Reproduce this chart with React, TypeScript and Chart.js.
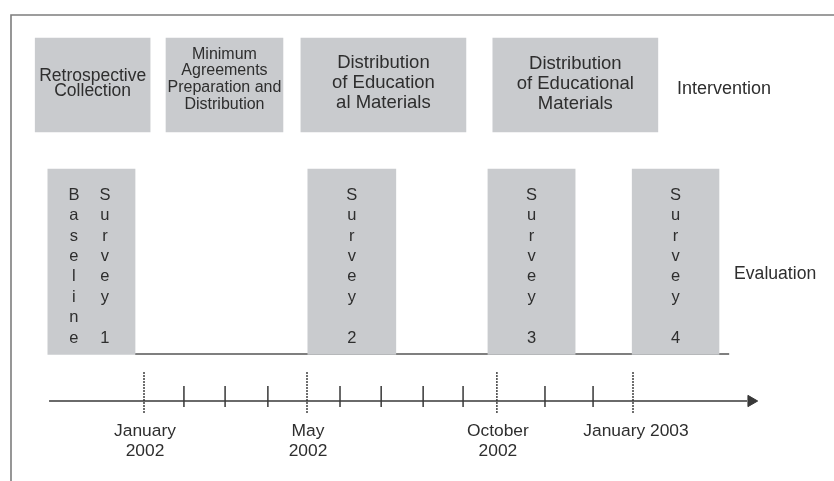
import { useEffect, useRef } from "react";
import { Chart, registerables } from "chart.js";

Chart.register(...registerables);

// Timeline positions, in months from January 2002, as spaced on the drawn axis
const majorTickPos = [0, 4, 8.66, 12];
const majorTickLabels = [["January", "2002"], ["May", "2002"], ["October", "2002"], ["January 2003"]];
const minorTickPos = [0.98, 1.99, 3.04, 4.81, 5.82, 6.85, 7.83, 9.84, 11.02];

// Intervention phases
const interventionLabels = [
  ["Retrospective", "Collection"],
  ["Minimum", "Agreements", "Preparation and", "Distribution"],
  ["Distribution", "of Education", "al Materials"],
  ["Distribution", "of Educational", "Materials"],
];
const interventionStart = [-2.67, 0.54, 3.85, 8.56];
const interventionEnd = [0.15, 3.41, 7.9, 12.61];

// Evaluation surveys (each word written vertically, one column per word)
const evaluationLabels = [["Baseline", "Survey 1"], ["Survey 2"], ["Survey 3"], ["Survey 4"]];
const evaluationStart = [-2.36, 4.02, 8.44, 11.98];
const evaluationEnd = [-0.22, 6.18, 10.58, 14.11];
const evaluationLineSpan = [-0.22, 14.36];

// Axis extent
const axisSpan = [-2.33, 14.8];
const arrowPos = [14.9];

// Row labels
const rowLabels = ["Intervention", "Evaluation"];
const rowLabelPos = [13.08, 14.48];

// ---- layout / style (not data) ----
const W = 834;
const H = 481;
const PX_PER_MONTH = 40.75;
const ORIGIN_PX = 144;
const FONT = '"Liberation Sans", Arial, sans-serif';
const TEXT = "#2e2e2e";
const BOX = "#c9cbce";
const LINE = "#383838";

const INT_CENTER = 85;
const INT_H = 94;
const EVAL_CENTER = 261.75;
const EVAL_H = 185.5;
const BASE_Y = 354;
const AXIS_Y = 401;
const MINOR_TOP = 386;
const MINOR_BOT = 407;
const MAJOR_TOP = 372;
const MAJOR_BOT = 414;

const interventionText = [
  { size: 17.5, lh: 14.5, cy: 82.5 },
  { size: 16, lh: 16.7, cy: 78 },
  { size: 18.5, lh: 20, cy: 82 },
  { size: 18.5, lh: 20, cy: 83 },
];
const LETTER_TOP = 194;
const LETTER_STEP = 20.4;
const LETTER_SIZE = 16.5;
const COL_GAP = 31;

const textPlugin = {
  id: "timelineText",
  beforeDraw(chart: any) {
    const { ctx } = chart;
    ctx.save();
    ctx.fillStyle = "#ffffff";
    ctx.fillRect(0, 0, W, H);
    ctx.strokeStyle = "#7d7d7d";
    ctx.lineWidth = 1.6;
    ctx.beginPath();
    ctx.moveTo(11, H);
    ctx.lineTo(11, 15);
    ctx.lineTo(W, 15);
    ctx.stroke();
    ctx.restore();
  },
  afterDatasetsDraw(chart: any) {
    const { ctx } = chart;
    const xs = chart.scales.x;
    const ys = chart.scales.y;
    ctx.save();
    ctx.fillStyle = TEXT;
    ctx.textBaseline = "alphabetic";
    ctx.textAlign = "center";

    // intervention box labels
    interventionLabels.forEach((lines, i) => {
      const st = interventionText[i];
      const cx = xs.getPixelForValue((interventionStart[i] + interventionEnd[i]) / 2);
      ctx.font = `${st.size}px ${FONT}`;
      lines.forEach((ln, j) => {
        const cy = ys.getPixelForValue(st.cy + (j - (lines.length - 1) / 2) * st.lh);
        ctx.fillText(ln, cx, cy + st.size * 0.35);
      });
    });

    // evaluation vertical labels
    ctx.font = `${LETTER_SIZE}px ${FONT}`;
    evaluationLabels.forEach((words, i) => {
      const cx = xs.getPixelForValue((evaluationStart[i] + evaluationEnd[i]) / 2);
      words.forEach((word, k) => {
        const colX = cx + (k - (words.length - 1) / 2) * COL_GAP - (words.length > 1 ? 2 : 0);
        word.split("").forEach((ch, j) => {
          if (ch === " ") return;
          const cy = ys.getPixelForValue(LETTER_TOP + j * LETTER_STEP);
          ctx.fillText(ch, colX, cy + LETTER_SIZE * 0.35);
        });
      });
    });

    // row labels
    ctx.textAlign = "left";
    ctx.font = `18px ${FONT}`;
    ctx.fillText(rowLabels[0], xs.getPixelForValue(rowLabelPos[0]), ys.getPixelForValue(88) + 18 * 0.35);
    ctx.font = `17.6px ${FONT}`;
    ctx.fillText(rowLabels[1], xs.getPixelForValue(rowLabelPos[1]), ys.getPixelForValue(273) + 17.6 * 0.35);

    // date labels
    ctx.textAlign = "center";
    ctx.font = `17.4px ${FONT}`;
    majorTickLabels.forEach((lines, i) => {
      const cx = xs.getPixelForValue(majorTickPos[i]) + (lines.length === 1 ? 3 : 1);
      lines.forEach((ln, j) => {
        const cy = ys.getPixelForValue(429.5 + j * 20);
        ctx.fillText(ln, cx, cy + 17.4 * 0.35);
      });
    });
    ctx.restore();
  },
};

export default function App() {
  const ref = useRef<HTMLCanvasElement | null>(null);

  useEffect(() => {
    if (!ref.current) return;
    const tickData = (pos: number[], top: number, bot: number) =>
      pos.flatMap((t) => [
        { x: t, y: top },
        { x: t, y: bot },
        { x: t, y: null },
      ]);

    const chart = new Chart(ref.current, {
      type: "bar",
      data: {
        datasets: [
          {
            type: "bar",
            indexAxis: "y",
            grouped: false,
            barThickness: INT_H,
            backgroundColor: BOX,
            borderWidth: 0,
            order: 1,
            data: interventionStart.map((s, i) => ({ x: [s, interventionEnd[i]], y: INT_CENTER })),
          } as any,
          {
            type: "bar",
            indexAxis: "y",
            grouped: false,
            barThickness: EVAL_H,
            backgroundColor: BOX,
            borderWidth: 0,
            order: 1,
            data: evaluationStart.map((s, i) => ({ x: [s, evaluationEnd[i]], y: EVAL_CENTER })),
          } as any,
          {
            type: "line",
            borderColor: "#555555",
            borderWidth: 1.6,
            pointRadius: 0,
            order: 10,
            data: evaluationLineSpan.map((v) => ({ x: v, y: BASE_Y })),
          } as any,
          {
            type: "line",
            borderColor: LINE,
            borderWidth: 1.7,
            pointRadius: 0,
            order: 5,
            data: axisSpan.map((v) => ({ x: v, y: AXIS_Y })),
          } as any,
          {
            type: "line",
            borderColor: LINE,
            borderWidth: 1.5,
            pointRadius: 0,
            spanGaps: false,
            order: 4,
            data: tickData(minorTickPos, MINOR_TOP, MINOR_BOT),
          } as any,
          {
            type: "line",
            borderColor: "#333333",
            borderWidth: 1.4,
            borderDash: [2, 1],
            pointRadius: 0,
            spanGaps: false,
            order: 4,
            data: tickData(majorTickPos, MAJOR_TOP, MAJOR_BOT),
          } as any,
          {
            type: "line",
            showLine: false,
            pointStyle: "triangle",
            rotation: 90,
            pointRadius: 6.5,
            pointBackgroundColor: LINE,
            pointBorderColor: LINE,
            pointBorderWidth: 1,
            order: 3,
            data: arrowPos.map((v) => ({ x: v, y: AXIS_Y })),
          } as any,
        ],
      },
      options: {
        responsive: false,
        animation: false,
        events: [],
        layout: { padding: 0, autoPadding: false },
        plugins: { legend: { display: false }, tooltip: { enabled: false } },
        scales: {
          x: {
            type: "linear",
            display: false,
            offset: false,
            grace: 0,
            min: -ORIGIN_PX / PX_PER_MONTH,
            max: (W - ORIGIN_PX) / PX_PER_MONTH,
          },
          y: {
            type: "linear",
            display: false,
            offset: false,
            grace: 0,
            reverse: true,
            min: 0,
            max: H,
          },
        },
      } as any,
      plugins: [textPlugin],
    });
    return () => chart.destroy();
  }, []);

  return (
    <div style={{ position: "absolute", left: 0, top: 0, width: W, height: H }}>
      <canvas ref={ref} width={W} height={H} style={{ display: "block" }} />
    </div>
  );
}
